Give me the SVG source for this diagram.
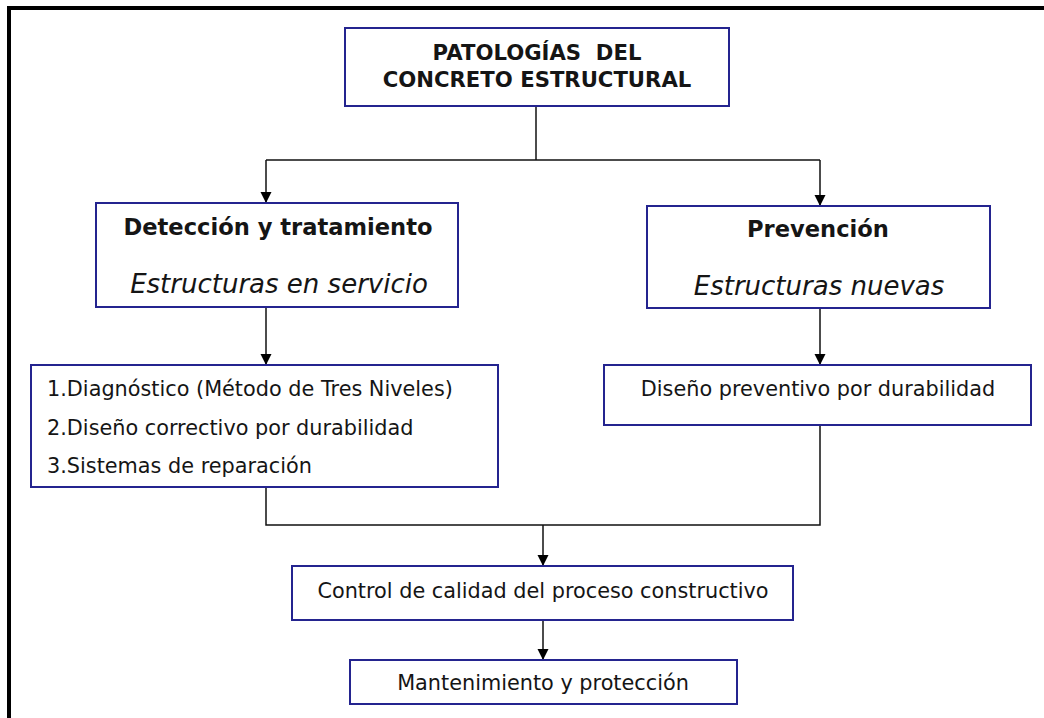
<svg xmlns="http://www.w3.org/2000/svg" width="1044" height="718" viewBox="0 0 1044 718">
<style>
.box{fill:#fff;stroke:#24248f;stroke-width:2}
.t{font-family:"DejaVu Sans",Verdana,sans-serif;fill:#151515;font-size:20.8px}
.tc{text-anchor:middle}
.b{font-weight:bold;font-size:22.6px}
.i{font-style:italic;font-size:26px}
.ttl{font-family:"DejaVu Sans",Tahoma,sans-serif;font-weight:bold;font-size:21.2px;fill:#151515;text-anchor:middle}
.ln{fill:none;stroke:#111;stroke-width:1.5}
</style>
<defs>
<marker id="ah" markerWidth="12" markerHeight="12" refX="11" refY="6" orient="auto" markerUnits="userSpaceOnUse" viewBox="0 0 12 12">
<path d="M0,0.5 L11,6 L0,11.5 Z" fill="#000"/>
</marker>
</defs>
<rect width="1044" height="718" fill="#fff"/>
<path d="M9,718 V8 H1044" fill="none" stroke="#000" stroke-width="4"/>
<g id="connectors">
<path class="ln" d="M536,106 V160"/>
<path class="ln" d="M266,160 H820"/>
<path class="ln" d="M266,160 V203" marker-end="url(#ah)"/>
<path class="ln" d="M820,160 V206" marker-end="url(#ah)"/>
<path class="ln" d="M266,307 V365" marker-end="url(#ah)"/>
<path class="ln" d="M820,308 V365" marker-end="url(#ah)"/>
<path class="ln" d="M266,487 V525 H820 V425"/>
<path class="ln" d="M543,525 V566" marker-end="url(#ah)"/>
<path class="ln" d="M543,620 V660" marker-end="url(#ah)"/>
</g>
<g id="n-title">
<rect class="box" x="345" y="28" width="384" height="78"/>
<text class="ttl" x="537" y="60" xml:space="preserve">PATOLOGÍAS  DEL</text>
<text class="ttl" x="537" y="87">CONCRETO ESTRUCTURAL</text>
</g>
<g id="n-deteccion">
<rect class="box" x="96" y="203" width="362" height="104"/>
<text class="t tc b" x="278" y="235">Detección y tratamiento</text>
<text class="t tc i" x="279" y="293">Estructuras en servicio</text>
</g>
<g id="n-prevencion">
<rect class="box" x="647" y="206" width="343" height="102"/>
<text class="t tc b" x="818" y="237">Prevención</text>
<text class="t tc i" x="819" y="295">Estructuras nuevas</text>
</g>
<g id="n-lista">
<rect class="box" x="31" y="365" width="467" height="122"/>
<text class="t" x="47" y="396">1.Diagnóstico (Método de Tres Niveles)</text>
<text class="t" x="47" y="435">2.Diseño correctivo por durabilidad</text>
<text class="t" x="47" y="473">3.Sistemas de reparación</text>
</g>
<g id="n-preventivo">
<rect class="box" x="604" y="365" width="427" height="60"/>
<text class="t tc" x="818" y="396">Diseño preventivo por durabilidad</text>
</g>
<g id="n-control">
<rect class="box" x="292" y="566" width="501" height="54"/>
<text class="t tc" x="543" y="598">Control de calidad del proceso constructivo</text>
</g>
<g id="n-mant">
<rect class="box" x="350" y="660" width="387" height="44"/>
<text class="t tc" x="543" y="690">Mantenimiento y protección</text>
</g>
</svg>
